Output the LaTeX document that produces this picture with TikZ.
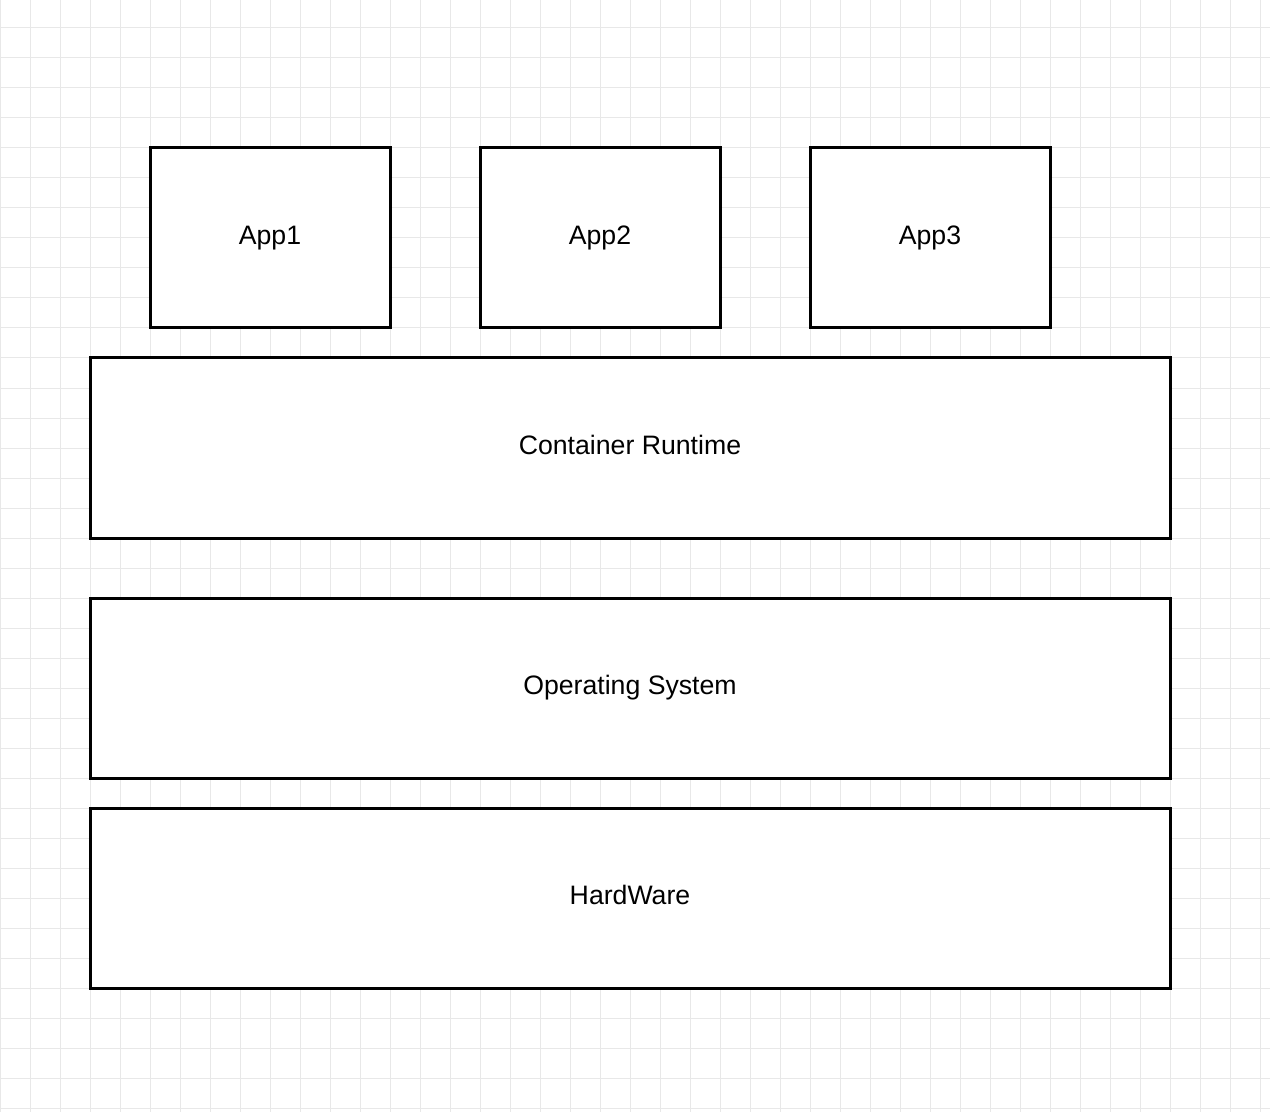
\documentclass[tikz,border=0pt]{standalone}
\usepackage{fontspec}
\setmainfont{Liberation Sans}
\definecolor{gridgrey}{HTML}{E8E8E8}
\begin{document}
\begin{tikzpicture}[x=0.75pt,y=-0.75pt,
  layerbox/.style={draw=black,line width=2.25pt,fill=white,rectangle,inner sep=0pt,
    font=\fontsize{20pt}{24pt}\selectfont,text height=9.2pt,text depth=0pt},
  appbox/.style={layerbox,minimum width=180pt,minimum height=135pt},
  widebox/.style={layerbox,minimum width=810pt,minimum height=135pt}]
\useasboundingbox[fill=white] (0,0) rectangle (1270,1112);
\foreach \gx in {0,30,...,1260} \draw[gridgrey,line width=0.75pt] (\gx,0) -- (\gx,1112);
\foreach \gy in {28,58,...,1108} \draw[gridgrey,line width=0.75pt] (0,\gy) -- (1270,\gy);
\node[appbox] (app1) at (270,238) {App1};
\node[appbox] (app2) at (600,238) {App2};
\node[appbox] (app3) at (930,238) {App3};
\node[widebox] (runtime) at (630,448) {Container Runtime};
\node[widebox] (os) at (630,688) {Operating System};
\node[widebox] (hw) at (630,898) {HardWare};
\end{tikzpicture}
\end{document}
